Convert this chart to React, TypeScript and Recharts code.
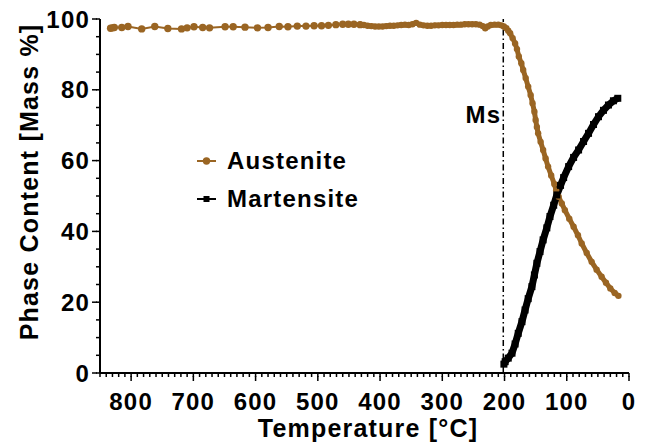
import React from 'react';
import { LineChart, Line, XAxis, YAxis, ReferenceLine, Legend, Label } from 'recharts';

// Austenite, sparse part (°C, mass %)
const ausSparseTemp = [833, 830, 827, 815, 805, 783, 762, 741, 719, 710, 699, 685, 674, 649, 636, 617, 597, 580, 562, 548, 533, 519, 506, 494, 483, 471, 460, 451, 442, 432];
const ausSparsePct = [97.4, 97.5, 97.6, 97.6, 97.9, 97.2, 97.9, 97.3, 97.2, 97.5, 97.8, 97.6, 97.5, 97.8, 97.8, 97.7, 97.5, 97.6, 97.9, 97.8, 98.0, 98.0, 98.1, 98.1, 98.2, 98.4, 98.5, 98.5, 98.5, 98.4];

// Austenite, dense part
const ausDenseTemp = [432, 426, 420, 414, 408, 402, 396, 390, 384, 378, 372, 366, 360, 354, 348, 342, 336, 330, 324, 318, 312, 306, 300, 294, 288, 282, 276, 270, 264, 258, 252, 246, 240, 235, 231, 227, 222, 216, 210, 205, 201, 197, 194, 191, 187, 183, 180, 177, 173, 170, 166, 162, 158, 155, 152, 150, 148, 146, 142, 138, 134, 130, 125, 120, 117, 113, 108, 103, 96, 89, 82, 76, 68, 60, 52, 44, 37, 30, 23, 17];
const ausDensePct = [98.4, 98.3, 98.1, 98.0, 97.9, 97.9, 97.9, 98.0, 98.1, 98.1, 98.2, 98.3, 98.4, 98.3, 98.5, 98.9, 98.4, 98.2, 98.1, 98.1, 98.2, 98.2, 98.3, 98.3, 98.3, 98.3, 98.4, 98.4, 98.5, 98.5, 98.5, 98.5, 98.4, 98.0, 97.4, 97.9, 98.3, 98.4, 98.4, 98.2, 97.9, 97.4, 96.7, 96.0, 94.6, 93.1, 91.5, 89.4, 87.5, 85.6, 83.3, 80.9, 78.5, 76.2, 73.8, 71.5, 69.5, 67.7, 65.3, 63.0, 60.6, 58.3, 55.8, 53.4, 51.6, 49.8, 47.9, 46.0, 43.6, 41.3, 38.9, 36.6, 33.9, 31.4, 29.2, 27.2, 25.5, 23.9, 22.6, 21.8];

// Martensite
const marTemp = [201, 199, 194, 188, 183, 178, 172, 167, 162, 156, 152, 148, 143, 138, 132, 127, 121, 116, 110, 105, 97, 89, 81, 73, 65, 57, 49, 41, 33, 25, 18];
const marPct = [2.5, 3.2, 4.2, 5.6, 8.2, 11.2, 14.5, 17.8, 21.0, 24.4, 27.7, 31.0, 34.3, 37.6, 41.0, 44.2, 47.4, 50.3, 53.0, 55.2, 58.3, 60.9, 63.0, 65.4, 67.7, 70.2, 72.4, 74.2, 75.7, 76.9, 77.6];

const msTemp = 202;
const xTicks = Array.from({ length: 86 }, (_, i) => i * 10);
const yTicks = Array.from({ length: 21 }, (_, i) => i * 5);

const BROWN = '#9A6523';
const FONT = '"Liberation Sans", Arial, sans-serif';

const toRows = (t: number[], v: number[]) => t.map((x, i) => ({ t: x, v: v[i] }));
const ausSparse = toRows(ausSparseTemp, ausSparsePct);
const ausDense = toRows(ausDenseTemp, ausDensePct);
const martensite = toRows(marTemp, marPct);

const textStyle = { fontFamily: FONT, fontWeight: 700, fill: '#000' };

// tick marks of size 4 come from recharts; majors get an extra 4px and a label
const XTick = (props: any) => {
  const { x, y, payload } = props;
  if (payload.value % 100 !== 0) return <g />;
  return (
    <g>
      <path d={`M${x},${y - 1}L${x},${y + 4}`} stroke="#000" strokeWidth={1.5} fill="none" />
      <text x={x} y={y + 33} textAnchor="middle" fontSize={24} letterSpacing={1.2} style={textStyle}>
        {payload.value}
      </text>
    </g>
  );
};

const YTick = (props: any) => {
  const { x, y, payload } = props;
  if (payload.value % 20 !== 0) return <g />;
  return (
    <g>
      <path d={`M${x + 1},${y}L${x - 4},${y}`} stroke="#000" strokeWidth={1.5} fill="none" />
      <text x={x - 6} y={y + 8.5} textAnchor="end" fontSize={24} letterSpacing={1.2} style={textStyle}>
        {payload.value}
      </text>
    </g>
  );
};

const SquareDot = (props: any) => {
  const { cx, cy, index } = props;
  return <rect key={'sq' + index} x={cx - 3.5} y={cy - 3.5} width={7} height={7} fill="#000" />;
};

const LegendBox = () => (
  <svg width={220} height={80}>
    <line x1={7} y1={21} x2={26} y2={21} stroke={BROWN} strokeWidth={2} />
    <circle cx={16.5} cy={21} r={3.7} fill={BROWN} />
    <text x={37} y={29} fontSize={24} letterSpacing={1.2} style={textStyle}>Austenite</text>
    <line x1={7} y1={59} x2={26} y2={59} stroke="#000" strokeWidth={2} />
    <rect x={13.5} y={56} width={6} height={6} fill="#000" />
    <text x={37} y={67} fontSize={24} letterSpacing={1.2} style={textStyle}>Martensite</text>
  </svg>
);

export default function App() {
  return (
    <div style={{ position: 'absolute', left: 0, top: 0, width: 646, height: 445, background: '#fff' }}>
      <LineChart width={646} height={445} margin={{ top: 19, right: 17, bottom: 0, left: 0 }}>
        <XAxis
          type="number"
          dataKey="t"
          domain={[0, 850]}
          reversed
          ticks={xTicks}
          interval={0}
          tickSize={4}
          tickMargin={0}
          tickLine={{ stroke: '#000', strokeWidth: 1.5 }}
          tick={<XTick />}
          height={72}
          axisLine={{ stroke: '#000', strokeWidth: 2 }}
        >
          <Label
            content={() => (
              <text x={368} y={437} textAnchor="middle" fontSize={25} letterSpacing={1.2} style={textStyle}>
                Temperature [°C]
              </text>
            )}
          />
        </XAxis>
        <YAxis
          type="number"
          dataKey="v"
          domain={[0, 100]}
          ticks={yTicks}
          interval={0}
          tickSize={4}
          tickMargin={0}
          tickLine={{ stroke: '#000', strokeWidth: 1.5 }}
          tick={<YTick />}
          width={100}
          axisLine={{ stroke: '#000', strokeWidth: 2 }}
        >
          <Label
            content={() => (
              <text
                x={38}
                y={182}
                transform="rotate(-90 38 182)"
                textAnchor="middle"
                fontSize={25}
                letterSpacing={1.2}
                style={textStyle}
              >
                Phase Content [Mass %]
              </text>
            )}
          />
        </YAxis>
        <ReferenceLine
          x={msTemp}
          stroke="#000"
          strokeWidth={1.5}
          strokeDasharray="6 3 1.5 3"
          label={(p: any) => (
            <text x={p.viewBox.x - 2} y={123} textAnchor="end" fontSize={24} letterSpacing={1.2} style={textStyle}>
              Ms
            </text>
          )}
        />
        <Line
          data={ausSparse}
          dataKey="v"
          name="Austenite"
          stroke={BROWN}
          strokeWidth={2}
          dot={{ r: 3.7, fill: BROWN, stroke: 'none' }}
          isAnimationActive={false}
        />
        <Line
          data={ausDense}
          dataKey="v"
          name="Austenite"
          stroke={BROWN}
          strokeWidth={5}
          dot={{ r: 3.2, fill: BROWN, stroke: 'none' }}
          isAnimationActive={false}
          legendType="none"
        />
        <Line
          data={martensite}
          dataKey="v"
          name="Martensite"
          stroke="#000"
          strokeWidth={7}
          dot={<SquareDot />}
          isAnimationActive={false}
        />
        <Legend
          layout="horizontal"
          verticalAlign="middle"
          align="center"
          content={<LegendBox />}
          wrapperStyle={{ position: 'absolute', left: 190, top: 140, width: 220, height: 80 }}
        />
      </LineChart>
    </div>
  );
}
